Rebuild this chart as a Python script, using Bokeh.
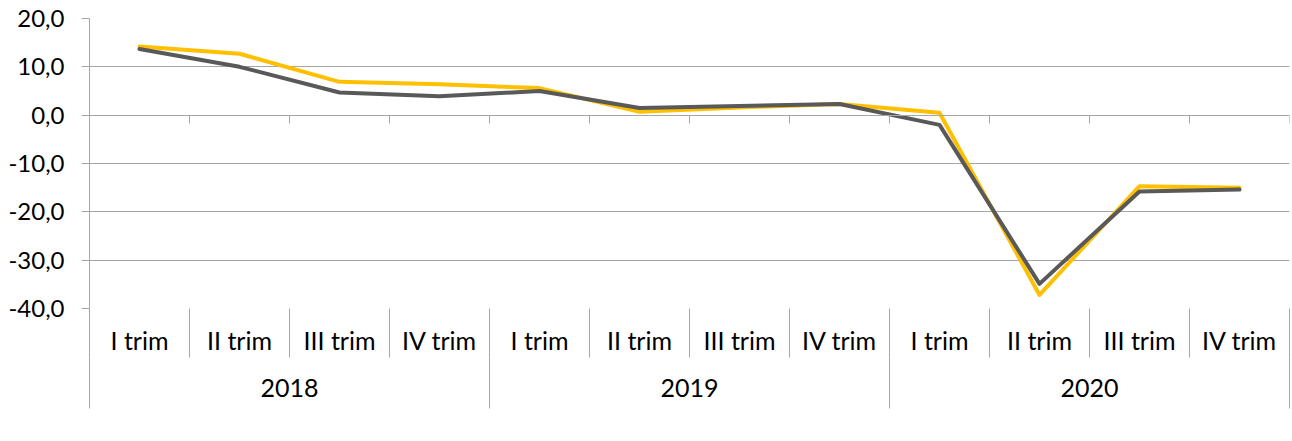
from bokeh.plotting import figure
from bokeh.models import (ColumnDataSource, Range1d, LinearAxis,
                          FixedTicker, Legend, LegendItem)
from bokeh.embed import file_html
from bokeh.resources import INLINE

# ---- data -------------------------------------------------------------
years = ["2018", "2019", "2020"]
quarters = ["I trim", "II trim", "III trim", "IV trim"]
maschi = [14.2, 12.7, 6.9, 6.4, 5.6, 0.7, 1.6, 2.3, 0.5, -37.2, -14.7, -15.0]
femmine = [13.7, 10.0, 4.7, 3.9, 5.0, 1.5, 1.9, 2.3, -2.0, -34.9, -15.8, -15.4]
y_ticks = [-40, -30, -20, -10, 0, 10, 20]
series_names = ["Maschi", "Femmine"]

# ---- styles -----------------------------------------------------------
FONT = "Lato"
YSIZE = "24px"
CSIZE = "25px"
GRID = "#a6a6a6"
C_M = "#FFC000"
C_F = "#595959"

factors = [(y, q) for y in years for q in quarters]
n = len(factors)
nq = len(quarters)
q_centers = [i + 0.5 for i in range(n)]          # category slot centres
boundaries = list(range(n + 1))                  # category slot edges
y_centers = [i * nq + nq / 2 for i in range(len(years))]
y_bounds = [i * nq for i in range(len(years) + 1)]

p = figure(x_range=Range1d(0, n), y_range=Range1d(min(y_ticks), max(y_ticks)),
           frame_width=1200, frame_height=290,
           min_border_left=89, min_border_right=3, min_border_top=18,
           min_border_bottom=133,
           x_axis_location=None, y_axis_location="left",
           toolbar_location=None, output_backend="svg",
           outline_line_color=None, background_fill_color="white",
           border_fill_color="white")

# ---- y axis & grid ----------------------------------------------------
yt = FixedTicker(ticks=y_ticks, minor_ticks=[])
p.yaxis.ticker = yt
p.yaxis.major_label_overrides = {t: f"{t:.1f}".replace(".", ",") for t in y_ticks}
p.yaxis.axis_line_color = GRID
p.yaxis.major_tick_line_color = GRID
p.yaxis.major_tick_out = 8
p.yaxis.major_tick_in = 0
p.yaxis.minor_tick_line_color = None
p.yaxis.major_label_standoff = 17
p.yaxis.major_label_text_font = FONT
p.yaxis.major_label_text_font_size = YSIZE
p.yaxis.major_label_text_color = "black"
for g in p.grid:
    if g.dimension == 0:
        g.visible = False
    else:
        g.ticker = yt
        g.grid_line_color = GRID

# ---- category axes (quarters / years) with separators ---------------
def style_cat_axis(ax, standoff, sep_len):
    ax.axis_line_color = None
    ax.major_tick_line_color = None
    ax.major_tick_out = 0
    ax.major_tick_in = 0
    ax.minor_tick_line_color = GRID
    ax.minor_tick_out = sep_len
    ax.minor_tick_in = 0
    ax.major_label_standoff = standoff
    ax.major_label_text_font = FONT
    ax.major_label_text_font_size = CSIZE
    ax.major_label_text_color = "black"

ax_q = LinearAxis(ticker=FixedTicker(ticks=q_centers, minor_ticks=boundaries),
                  major_label_overrides={c: f[1] for c, f in zip(q_centers, factors)})
style_cat_axis(ax_q, -33, 49)
p.add_layout(ax_q, "below")

ax_y = LinearAxis(ticker=FixedTicker(ticks=y_centers, minor_ticks=y_bounds),
                  major_label_overrides={c: y for c, y in zip(y_centers, years)})
style_cat_axis(ax_y, -30, 51)
p.add_layout(ax_y, "below")

# horizontal axis line crossing at zero with small tick marks
ax_0 = LinearAxis(fixed_location=0,
                  ticker=FixedTicker(ticks=[], minor_ticks=boundaries))
ax_0.axis_line_color = GRID
ax_0.major_tick_line_color = None
ax_0.minor_tick_line_color = GRID
ax_0.minor_tick_out = 8
ax_0.minor_tick_in = 0
ax_0.major_label_text_font_size = "0px"
p.add_layout(ax_0, "below")

# ---- lines ------------------------------------------------------------
src = ColumnDataSource(dict(x=q_centers, maschi=maschi, femmine=femmine))
r1 = p.line("x", "maschi", source=src, line_color=C_M, line_width=4,
            line_join="round", line_cap="round")
r2 = p.line("x", "femmine", source=src, line_color=C_F, line_width=4,
            line_join="round", line_cap="round")

legend = Legend(items=[LegendItem(label=series_names[0], renderers=[r1]),
                       LegendItem(label=series_names[1], renderers=[r2])],
                orientation="horizontal", location="center",
                padding=0, margin=0, spacing=136, glyph_width=52,
                label_standoff=6, label_width=82,
                border_line_color=None, background_fill_alpha=0,
                label_text_font=FONT, label_text_font_size=CSIZE,
                label_text_color="black")
p.add_layout(legend, "below")

open("out.html", "w").write(file_html(p, INLINE))
